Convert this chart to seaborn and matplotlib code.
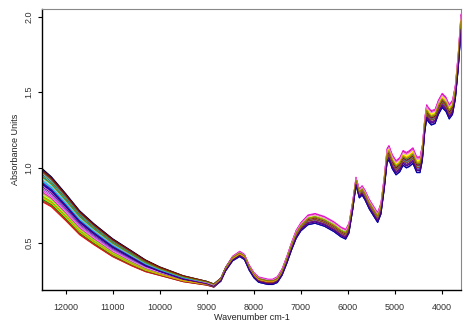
import numpy as np
import pandas as pd
import matplotlib
matplotlib.use("Agg")
import matplotlib.pyplot as plt
import seaborn as sns

# ---- data ----
wavenumber = [12500, 12300, 12000, 11700, 11400, 11000, 10600, 10300, 10000, 9500,
              9000, 8850, 8700, 8600, 8450, 8300, 8200, 8100, 8000, 7900,
              7700, 7600, 7500, 7400, 7300, 7200, 7100, 7000, 6850, 6700,
              6500, 6300, 6150, 6050, 5980, 5900, 5830, 5760, 5700, 5640,
              5550, 5450, 5370, 5300, 5230, 5170, 5130, 5060, 4980, 4900,
              4830, 4760, 4700, 4620, 4540, 4470, 4420, 4370, 4330, 4290,
              4230, 4150, 4080, 4000, 3920, 3850, 3780, 3720, 3660, 3600]
center = [0.885, 0.84, 0.74, 0.635, 0.56, 0.47, 0.40, 0.35, 0.315, 0.265,
          0.235, 0.22, 0.26, 0.33, 0.40, 0.43, 0.41, 0.34, 0.29, 0.26,
          0.245, 0.245, 0.26, 0.31, 0.39, 0.48, 0.56, 0.61, 0.655, 0.665,
          0.645, 0.61, 0.575, 0.56, 0.60, 0.75, 0.91, 0.83, 0.85, 0.82,
          0.76, 0.71, 0.67, 0.73, 0.90, 1.08, 1.10, 1.04, 1.00, 1.02,
          1.065, 1.05, 1.06, 1.08, 1.02, 1.02, 1.10, 1.28, 1.37, 1.35,
          1.33, 1.34, 1.40, 1.445, 1.42, 1.37, 1.40, 1.50, 1.70, 1.96]
spread_scatter = [0.11, 0.10, 0.09, 0.08, 0.07, 0.06, 0.05, 0.04, 0.03, 0.022,
                  0.015, 0.013, 0.012, 0.012, 0.011, 0.011, 0.011, 0.010, 0.010, 0.010,
                  0.010, 0.010, 0.010, 0.010, 0.010, 0.010, 0.010, 0.010, 0.010, 0.010,
                  0.010, 0.010, 0.010, 0.010, 0.010, 0.010, 0.010, 0.010, 0.010, 0.010,
                  0.010, 0.010, 0.010, 0.010, 0.010, 0.010, 0.010, 0.010, 0.010, 0.010,
                  0.010, 0.010, 0.010, 0.010, 0.010, 0.010, 0.010, 0.010, 0.010, 0.010,
                  0.010, 0.010, 0.010, 0.010, 0.010, 0.010, 0.010, 0.010, 0.010, 0.010]
spread_band = [0.0, 0.0, 0.0, 0.0, 0.0, 0.0, 0.0, 0.002, 0.004, 0.006,
               0.008, 0.01, 0.012, 0.015, 0.018, 0.02, 0.02, 0.02, 0.02, 0.02,
               0.02, 0.02, 0.022, 0.024, 0.026, 0.028, 0.03, 0.03, 0.035, 0.035,
               0.035, 0.035, 0.035, 0.035, 0.035, 0.032, 0.03, 0.032, 0.034, 0.035,
               0.035, 0.035, 0.035, 0.04, 0.045, 0.05, 0.05, 0.05, 0.05, 0.05,
               0.052, 0.054, 0.055, 0.055, 0.055, 0.055, 0.055, 0.05, 0.05, 0.05,
               0.05, 0.05, 0.05, 0.05, 0.05, 0.05, 0.05, 0.05, 0.055, 0.06]

sample_colors = ["black", "#000080", "#006400", "gray", "#008080", "cyan", "#1E90FF",
                 "blue", "#8A2BE2", "purple", "magenta", "#FF69B4", "pink", "red",
                 "#FF4500", "orange", "gold", "yellow", "#9ACD32", "green", "lime",
                 "#2E8B57", "#4682B4", "#6A5ACD", "#C71585", "#B22222", "#8B4513",
                 "darkgray", "#00BFFF", "#7FFF00", "#8B0000", "violet", "darkblue",
                 "darkorange", "olive", "indigo"]
scatter_level = [1.0, 0.95, 0.85, 0.75, 0.65, 0.45, 0.3, 0.1, 0.0, -0.1, -0.3, -0.45,
                 -0.55, -1.0, -0.9, -0.8, -0.7, -0.6, -0.5, -0.85, -0.65, 0.55, 0.2,
                 -0.2, -0.4, -0.95, 0.8, 0.35, 0.25, -0.75, 0.9, -0.35, 0.05, -0.7,
                 0.5, 0.15]
band_level = [-0.3, -0.8, -0.1, 0.0, -0.4, 0.1, -0.6, -1.0, -0.7, -0.5, 1.0, 0.85,
              0.7, 0.3, 0.4, 0.5, 0.55, 0.6, 0.35, 0.2, 0.25, 0.15, -0.2, -0.85,
              0.9, 0.1, -0.5, -0.1, 0.0, 0.45, -0.2, 0.75, -0.95, 0.4, 0.05, -0.75]

x_ticks = [12000, 11000, 10000, 9000, 8000, 7000, 6000, 5000, 4000]
y_ticks = [0.5, 1.0, 1.5, 2.0]

# ---- build long table ----
wn = np.array(wavenumber)
c = np.array(center)
ss = np.array(spread_scatter)
sb = np.array(spread_band)
rows = []
for i, (a, b) in enumerate(zip(scatter_level, band_level)):
    vals = c + a * ss + b * sb
    for x, y in zip(wn, vals):
        rows.append({"wn": x, "abs": y, "sample": f"s{i}"})
df = pd.DataFrame(rows)

sns.set_style("white")
plt.rcParams["font.family"] = ["Liberation Sans", "DejaVu Sans"]

fig = plt.figure(figsize=(4.77, 3.28), dpi=100)
ax = fig.add_axes([42 / 477, 38 / 328, 419 / 477, 281 / 328])
sns.lineplot(data=df, x="wn", y="abs", hue="sample", palette=sample_colors,
             estimator=None, legend=False, linewidth=0.7, ax=ax, sort=True)

ax.set_xlim(12500, 3600)
ax.set_ylim(0.19, 2.05)
ax.set_xticks(x_ticks)
ax.set_xticklabels([str(t) for t in x_ticks])
ax.set_yticks(y_ticks)
ax.set_yticklabels([f"{t:.1f}" for t in y_ticks], rotation=90, va="center")
ax.tick_params(axis="both", direction="out", length=3, width=0.8, labelsize=6.5,
               colors="black", labelcolor="#333333", left=True, bottom=True)
ax.tick_params(axis="x", pad=6)
ax.tick_params(axis="y", pad=3)
ax.set_xlabel("Wavenumber cm-1", fontsize=6.5, color="#222222", labelpad=1)
ax.set_ylabel("Absorbance Units", fontsize=6.5, color="#222222", labelpad=3)
for s in ["left", "bottom"]:
    ax.spines[s].set_color("black")
    ax.spines[s].set_linewidth(1.0)
for s in ["top", "right"]:
    ax.spines[s].set_color("#888888")
    ax.spines[s].set_linewidth(0.8)
ax.grid(False)
fig.savefig("out.png", dpi=100, facecolor="white")
